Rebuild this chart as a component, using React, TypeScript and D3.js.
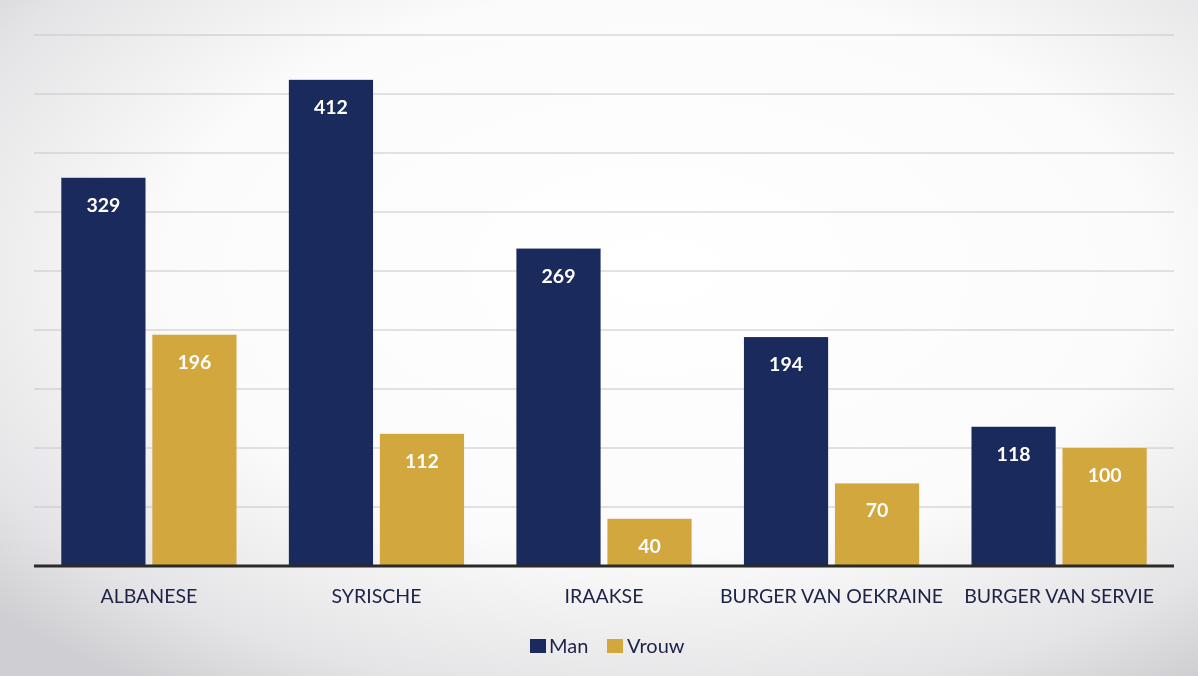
import React from "react";
import { scaleBand, scaleLinear } from "d3";

const categories = [
  "ALBANESE",
  "SYRISCHE",
  "IRAAKSE",
  "BURGER VAN OEKRAINE",
  "BURGER VAN SERVIE",
];
const series = ["Man", "Vrouw"];
const manValues = [329, 412, 269, 194, 118];
const vrouwValues = [196, 112, 40, 70, 100];
const gridTicks = [0, 50, 100, 150, 200, 250, 300, 350, 400, 450];

const colors = ["#1b2a5c", "#d2a73d"];
const W = 1198;
const H = 676;
const margin = { left: 34, right: 24, top: 35, bottom: 110 };

export default function App() {
  const x0 = scaleBand<string>()
    .domain(categories)
    .range([margin.left, W - margin.right])
    .paddingInner(0.23)
    .paddingOuter(0.12);
  const x1 = scaleBand<string>()
    .domain(series)
    .range([0, x0.bandwidth()])
    .paddingInner(0.075);
  const y = scaleLinear().domain([0, 450]).range([566, 35]);

  const values = [manValues, vrouwValues];
  const font = "Lato, 'Open Sans', sans-serif";

  return (
    <svg
      width={W}
      height={H}
      style={{ position: "fixed", top: 0, left: 0 }}
      fontFamily={font}
    >
      <defs>
        <radialGradient id="bg" cx="55%" cy="40%" r="75%">
          <stop offset="0%" stopColor="#ffffff" />
          <stop offset="55%" stopColor="#fbfbfb" />
          <stop offset="85%" stopColor="#e4e4e6" />
          <stop offset="100%" stopColor="#cfcfd3" />
        </radialGradient>
      </defs>
      <rect width={W} height={H} fill="url(#bg)" />

      {/* grid lines */}
      {gridTicks.slice(1).map((t) => (
        <line
          key={t}
          x1={margin.left}
          x2={W - margin.right}
          y1={y(t)}
          y2={y(t)}
          stroke="#c6c6c8"
          strokeWidth={1}
        />
      ))}

      {/* bars */}
      {categories.map((c, i) => (
        <g key={c} transform={`translate(${x0(c)},0)`}>
          {series.map((s, j) => {
            const v = values[j][i];
            const bx = x1(s) ?? 0;
            return (
              <g key={s}>
                <rect
                  x={bx}
                  y={y(v)}
                  width={x1.bandwidth()}
                  height={y(0) - y(v)}
                  fill={colors[j]}
                />
                <text
                  x={bx + x1.bandwidth() / 2}
                  y={y(v) + 34}
                  textAnchor="middle"
                  fill="#ffffff"
                  fontSize={19.5}
                  fontWeight={700}
                >
                  {v}
                </text>
              </g>
            );
          })}
        </g>
      ))}

      {/* baseline */}
      <line
        x1={margin.left}
        x2={W - margin.right}
        y1={y(0)}
        y2={y(0)}
        stroke="#2a2a2a"
        strokeWidth={3}
      />

      {/* category labels */}
      {categories.map((c) => (
        <text
          key={c}
          x={(x0(c) ?? 0) + x0.bandwidth() / 2}
          y={603}
          textAnchor="middle"
          fill="#1c2346"
          fontSize={19.5}
        >
          {c}
        </text>
      ))}

      {/* legend */}
      <g transform="translate(530,639)">
        <rect x={0} y={0} width={16} height={14} fill={colors[0]} />
        <text x={19} y={14} fontSize={20} fill="#1c2346">
          Man
        </text>
        <rect x={77} y={0} width={16} height={14} fill={colors[1]} />
        <text x={97} y={14} fontSize={20} fill="#1c2346">
          Vrouw
        </text>
      </g>
    </svg>
  );
}
